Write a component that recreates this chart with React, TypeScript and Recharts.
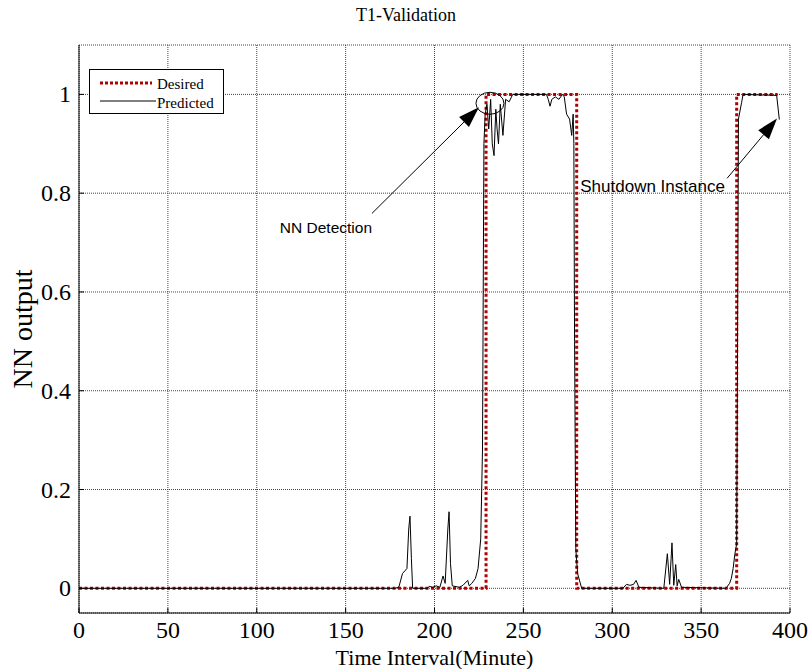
import React from "react";
import {
  LineChart, Line, XAxis, YAxis, CartesianGrid, ReferenceLine, ReferenceDot, Legend,
} from "recharts";

const timeTicks = [0, 50, 100, 150, 200, 250, 300, 350, 400];
const outputTicks = [0, 0.2, 0.4, 0.6, 0.8, 1];

// desired response (on/off steps)
const desiredTime = [0, 229, 229, 280, 280, 370, 370, 393];
const desiredOut = [0, 0, 1, 1, 0, 0, 1, 1];

// NN predicted output
const predictedTime = [
  0, 178, 180, 182, 184.5, 185.5, 186.2, 187, 187.7, 196,
  197, 199, 201, 203, 204.8, 206, 207.5, 208.2, 209, 210,
  214, 216, 218.7, 219.5, 221, 223, 224.5, 226, 227, 227.8,
  228.5, 229.5, 230.5, 231.6, 232.5, 233.5, 234.5, 235.2, 236, 237,
  238.5, 240, 242, 244, 263, 264, 265, 266, 268, 270,
  272, 273, 274.3, 276, 277.2, 278, 278.4, 278.8, 279.5, 280.5,
  282.8, 306, 308, 310, 312, 313.4, 315, 329, 331, 332.3,
  333.6, 334.6, 335.7, 336.5, 337.4, 339, 364, 366, 367, 368,
  369, 370, 370.5, 371, 372.8, 373.6, 392.5, 394,
];
const predictedOut = [
  0, 0, 0.003, 0.03, 0.04, 0.12, 0.146, 0.06, 0, 0,
  0.004, 0.002, 0.005, 0.002, 0.025, 0.01, 0.12, 0.155, 0.05, 0.005,
  0.002, 0.006, 0.016, 0.005, 0.01, 0.02, 0.04, 0.1, 0.28, 0.9,
  0.96, 0.98, 0.93, 0.99, 0.9, 0.876, 0.97, 0.93, 0.9, 0.98,
  0.917, 0.99, 0.985, 1, 1, 0.99, 0.976, 0.99, 0.995, 0.99,
  1, 0.995, 0.96, 0.95, 0.917, 0.96, 0.9, 0.5, 0.08, 0.03,
  0, 0, 0.008, 0.006, 0.008, 0.016, 0.002, 0, 0.07, 0.008,
  0.092, 0.006, 0.048, 0.005, 0.018, 0.002, 0, 0.01, 0.02, 0.04,
  0.07, 0.09, 0.5, 0.95, 0.984, 1, 0.998, 0.949,
];

const desiredData = desiredTime.map((t, i) => ({ t, v: desiredOut[i] }));
const predictedData = predictedTime.map((t, i) => ({ t, v: predictedOut[i] }));

const serif = "'Liberation Serif', 'Times New Roman', serif";
const sans = "'Liberation Sans', Arial, sans-serif";
const RED = "#b00000";

const LeftTick = ({ x, y, payload }: any) => (
  <g>
    <text x={x} y={y} textAnchor="end" dominantBaseline="central" fontFamily={serif} fontSize={24} fill="#000">
      {payload.value}
    </text>
    <line x1={x + 8} x2={x + 13} y1={y} y2={y} stroke="#000" />
  </g>
);

const BottomTick = ({ x, y, payload }: any) => (
  <g>
    <text x={x} y={y} dy="0.71em" textAnchor="middle" fontFamily={serif} fontSize={24} fill="#000">
      {payload.value}
    </text>
    <line x1={x} x2={x} y1={y - 8} y2={y - 13} stroke="#000" />
  </g>
);

const TopTick = ({ x, y }: any) => <line x1={x} x2={x} y1={y} y2={y + 5} stroke="#000" />;
const RightTick = ({ x, y }: any) => <line x1={x} x2={x - 5} y1={y} y2={y} stroke="#000" />;

const Arrow = (p: any) => {
  const { x1, y1, x2, y2 } = p;
  const ang = Math.atan2(y2 - y1, x2 - x1);
  const len = 21, half = 7;
  const bx = x2 - len * Math.cos(ang), by = y2 - len * Math.sin(ang);
  const px = -Math.sin(ang) * half, py = Math.cos(ang) * half;
  return (
    <g>
      <line x1={x1} y1={y1} x2={bx} y2={by} stroke="#000" strokeWidth={1} />
      <polygon points={`${x2},${y2} ${bx + px},${by + py} ${bx - px},${by - py}`} fill="#000" />
    </g>
  );
};

const LegendBox = () => (
  <div style={{ width: 135, height: 45, border: "1px solid #000", background: "#fff", boxSizing: "border-box" }}>
    <svg width={133} height={43}>
      <line x1={10} x2={62} y1={13} y2={13} stroke={RED} strokeWidth={3} strokeDasharray="3 2" />
      <text x={67} y={14} dominantBaseline="central" fontFamily={serif} fontSize={15} fill="#000">Desired</text>
      <line x1={10} x2={66} y1={31} y2={31} stroke="#000" strokeWidth={1} />
      <text x={67} y={33} dominantBaseline="central" fontFamily={serif} fontSize={15} fill="#000">Predicted</text>
    </svg>
  </div>
);

export default function App() {
  return (
    <div style={{ position: "absolute", left: 0, top: 0, width: 812, height: 669, background: "#fff" }}>
      <div style={{ position: "absolute", top: 5, width: 812, textAlign: "center", fontFamily: serif, fontSize: 18 }}>
        T1-Validation
      </div>
      <LineChart width={812} height={669} margin={{ top: 45, right: 22, bottom: 0, left: 19 }}>
        <CartesianGrid stroke="#444" strokeDasharray="1 1" />
        <XAxis
          dataKey="t" type="number" domain={[0, 400]} ticks={timeTicks} height={56}
          tickSize={0} tickMargin={8} tickLine={false} tick={<BottomTick />}
          axisLine={{ stroke: "#000" }} allowDataOverflow
          label={{
            content: ({ viewBox }: any) => (
              <text x={viewBox.x + viewBox.width / 2} y={viewBox.y + 52} textAnchor="middle" fontFamily={serif} fontSize={22} fill="#000">
                Time Interval(Minute)
              </text>
            ),
          }}
        />
        <XAxis
          xAxisId="top" orientation="top" type="number" domain={[0, 400]} ticks={timeTicks} height={0}
          tickSize={0} tickMargin={0} tickLine={false} tick={<TopTick />} axisLine={{ stroke: "#000" }}
        />
        <YAxis
          type="number" domain={[-0.05, 1.1]} ticks={outputTicks} width={60}
          tickSize={0} tickMargin={8} tickLine={false} tick={<LeftTick />}
          axisLine={{ stroke: "#000" }} allowDataOverflow
          label={{
            content: ({ viewBox }: any) => (
              <text
                transform={`translate(${viewBox.x + 3}, ${viewBox.y + viewBox.height / 2}) rotate(-90)`}
                textAnchor="middle" dominantBaseline="central" fontFamily={serif} fontSize={28} fill="#000"
              >
                NN output
              </text>
            ),
          }}
        />
        <YAxis
          yAxisId="right" orientation="right" type="number" domain={[-0.05, 1.1]} ticks={outputTicks} width={0}
          tickSize={0} tickMargin={0} tickLine={false} tick={<RightTick />} axisLine={{ stroke: "#000" }}
        />
        <Legend
          layout="vertical" align="center" verticalAlign="middle"
          wrapperStyle={{ position: "absolute", left: 89, top: 69, width: 135, height: 45 }}
          content={() => <LegendBox />}
        />
        <Line
          data={desiredData} dataKey="v" name="Desired" stroke={RED} strokeWidth={3}
          strokeDasharray="3 2.5" dot={false} isAnimationActive={false} type="linear"
        />
        <Line
          data={predictedData} dataKey="v" name="Predicted" stroke="#000" strokeWidth={1}
          dot={false} isAnimationActive={false} type="linear"
        />
        <ReferenceDot
          x={231.2} y={0.982}
          shape={(p: any) => <ellipse cx={p.cx} cy={p.cy} rx={14} ry={11} fill="none" stroke="#000" strokeWidth={1} />}
        />
        <ReferenceLine segment={[{ x: 164.8, y: 0.759 }, { x: 225, y: 0.974 }]} shape={Arrow} />
        <ReferenceLine segment={[{ x: 364.6, y: 0.83 }, { x: 392.7, y: 0.951 }]} shape={Arrow} />
        <ReferenceDot
          x={113} y={0.73}
          shape={(p: any) => (
            <text x={p.cx} y={p.cy} dominantBaseline="central" fontFamily={sans} fontSize={15.5} fill="#000">NN Detection</text>
          )}
        />
        <ReferenceDot
          x={282} y={0.813}
          shape={(p: any) => (
            <text x={p.cx} y={p.cy} dominantBaseline="central" fontFamily={sans} fontSize={17} fill="#000">Shutdown Instance</text>
          )}
        />
      </LineChart>
    </div>
  );
}
